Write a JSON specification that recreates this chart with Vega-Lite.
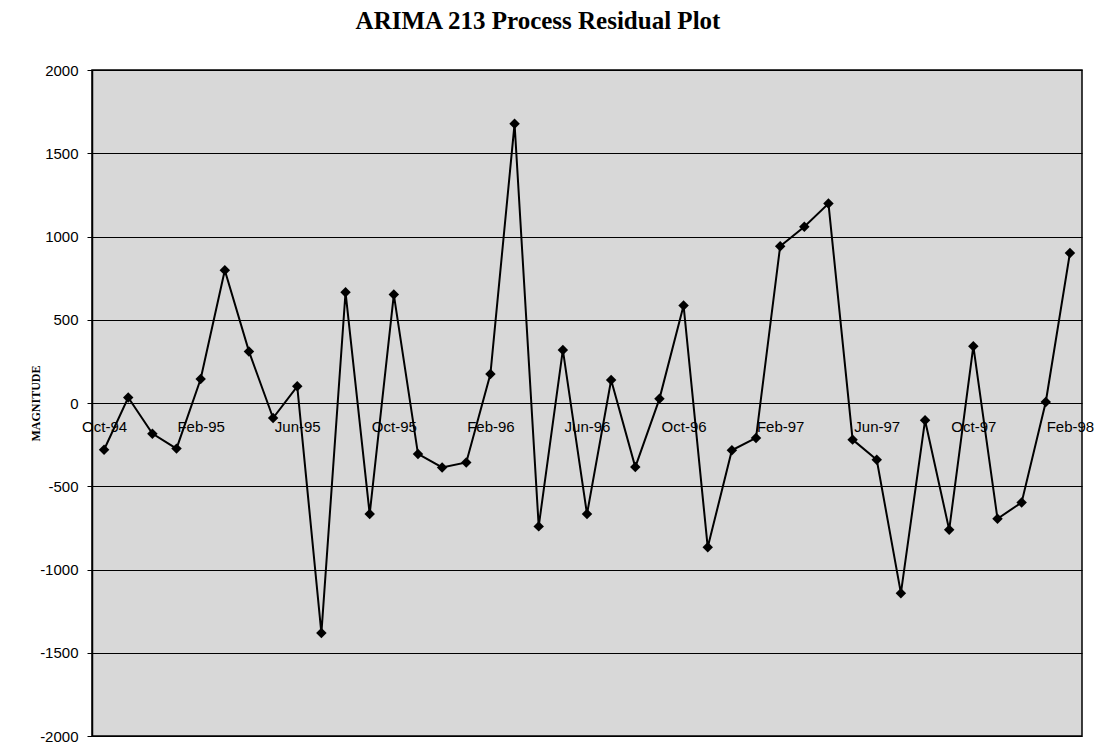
{
  "$schema": "https://vega.github.io/schema/vega-lite/v6.json",
  "width": 990,
  "height": 666,
  "autosize": {"type": "none"},
  "padding": {"left": 92, "top": 70, "right": 15, "bottom": 10},
  "background": "white",
  "title": {
    "text": "ARIMA 213 Process Residual Plot",
    "font": "Liberation Serif",
    "fontSize": 25,
    "fontWeight": "bold",
    "color": "black",
    "anchor": "middle",
    "offset": 29,
    "dx": -49
  },
  "config": {
    "view": {"fill": "#d8d8d8", "stroke": "black", "strokeWidth": 1.5},
    "axis": {"labelFont": "Liberation Sans", "labelColor": "black", "titleColor": "black"}
  },
  "data": {
    "values": [
      {"month": "Oct-94", "residual": -281},
      {"month": "Nov-94", "residual": 33},
      {"month": "Dec-94", "residual": -184},
      {"month": "Jan-95", "residual": -274},
      {"month": "Feb-95", "residual": 144},
      {"month": "Mar-95", "residual": 797},
      {"month": "Apr-95", "residual": 310},
      {"month": "May-95", "residual": -90},
      {"month": "Jun-95", "residual": 100},
      {"month": "Jul-95", "residual": -1382},
      {"month": "Aug-95", "residual": 665},
      {"month": "Sep-95", "residual": -667},
      {"month": "Oct-95", "residual": 651},
      {"month": "Nov-95", "residual": -306},
      {"month": "Dec-95", "residual": -387},
      {"month": "Jan-96", "residual": -357},
      {"month": "Feb-96", "residual": 174},
      {"month": "Mar-96", "residual": 1677},
      {"month": "Apr-96", "residual": -741},
      {"month": "May-96", "residual": 319},
      {"month": "Jun-96", "residual": -667},
      {"month": "Jul-96", "residual": 138},
      {"month": "Aug-96", "residual": -385},
      {"month": "Sep-96", "residual": 25},
      {"month": "Oct-96", "residual": 585},
      {"month": "Nov-96", "residual": -867},
      {"month": "Dec-96", "residual": -284},
      {"month": "Jan-97", "residual": -210},
      {"month": "Feb-97", "residual": 942},
      {"month": "Mar-97", "residual": 1058},
      {"month": "Apr-97", "residual": 1198},
      {"month": "May-97", "residual": -220},
      {"month": "Jun-97", "residual": -341},
      {"month": "Jul-97", "residual": -1142},
      {"month": "Aug-97", "residual": -104},
      {"month": "Sep-97", "residual": -761},
      {"month": "Oct-97", "residual": 341},
      {"month": "Nov-97", "residual": -695},
      {"month": "Dec-97", "residual": -597},
      {"month": "Jan-98", "residual": 6},
      {"month": "Feb-98", "residual": 901}
    ]
  },
  "encoding": {
    "x": {
      "field": "month",
      "type": "ordinal",
      "sort": null,
      "scale": {"type": "point", "padding": 0.5},
      "axis": {
        "title": null,
        "orient": "bottom",
        "offset": -333,
        "domain": false,
        "ticks": false,
        "tickSize": 0,
        "grid": false,
        "labelAngle": 0,
        "labelFontSize": 15,
        "labelPadding": 16,
        "values": ["Oct-94", "Feb-95", "Jun-95", "Oct-95", "Feb-96", "Jun-96", "Oct-96", "Feb-97", "Jun-97", "Oct-97", "Feb-98"]
      }
    },
    "y": {
      "field": "residual",
      "type": "quantitative",
      "scale": {"domain": [-2000, 2000], "nice": false, "zero": false},
      "axis": {
        "title": "MAGNITUDE",
        "titleFont": "Liberation Serif",
        "titleFontSize": 12,
        "titleFontWeight": "bold",
        "titleX": -50,
        "values": [-2000, -1500, -1000, -500, 0, 500, 1000, 1500, 2000],
        "labelExpr": "'' + datum.value",
        "grid": true,
        "gridColor": "black",
        "gridWidth": 1.2,
        "gridOpacity": 1,
        "domain": true,
        "domainColor": "black",
        "domainWidth": 1.5,
        "ticks": true,
        "tickColor": "black",
        "tickSize": 5,
        "labelFontSize": 15,
        "labelPadding": 9
      }
    }
  },
  "layer": [
    {"mark": {"type": "line", "color": "black", "strokeWidth": 2}},
    {"mark": {"type": "point", "shape": "diamond", "filled": true, "color": "black", "size": 110, "opacity": 1}}
  ]
}
